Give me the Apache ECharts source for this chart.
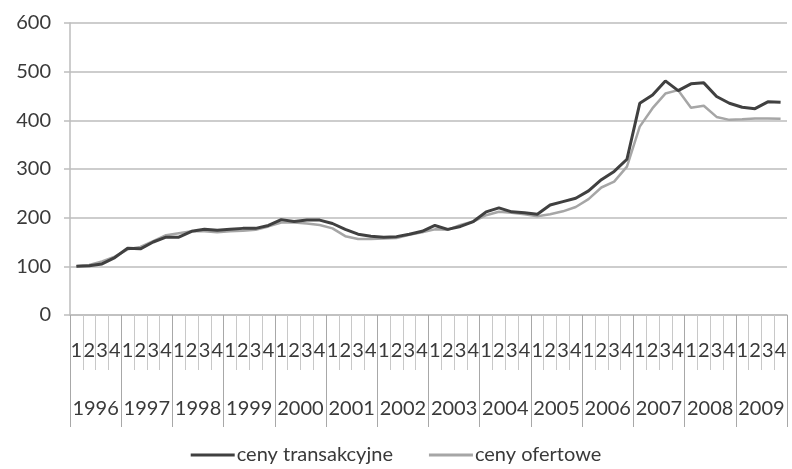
<!DOCTYPE html>
<html>
<head>
<meta charset="utf-8">
<script src="https://cdn.jsdelivr.net/npm/echarts@6/dist/echarts.min.js"></script>
<style>
  html, body { margin: 0; padding: 0; background: #ffffff; }
  #chart { width: 792px; height: 469px; }
</style>
</head>
<body>
<div id="chart"></div>
<script>
// Years and quarters on the two-level category axis
const years = ['1996','1997','1998','1999','2000','2001','2002','2003','2004','2005','2006','2007','2008','2009'];
const quarterNames = ['1','2','3','4'];

// Price index, quarterly, 1996 Q1 = 100
const cenyTransakcyjne = [
  100, 101, 105, 118,
  137, 136, 150, 160,
  160, 172, 176, 174,
  176, 178, 178, 184,
  196, 192, 195, 195,
  188, 176, 166, 162,
  160, 161, 166, 172,
  184, 176, 182, 192,
  212, 220, 212, 210,
  207, 226, 233, 240,
  255, 278, 295, 320,
  435, 452, 481, 461,
  475, 477, 449, 435,
  427, 424, 438, 437
];
const cenyOfertowe = [
  100, 103, 110, 120,
  135, 140, 152, 164,
  168, 172, 172, 170,
  172, 173, 175, 182,
  190, 190, 188, 185,
  178, 162, 156, 156,
  157, 158, 165, 170,
  176, 175, 185, 192,
  205, 212, 210, 207,
  203, 207, 213, 222,
  238, 262, 274, 305,
  387, 425, 455, 462,
  426, 430, 407, 401,
  402, 404, 404, 403
];

const yTicks = { min: 0, max: 600, step: 100 };

// One category per quarter, labelled 1..4
const quarterCats = [];
years.forEach(y => quarterNames.forEach(q => quarterCats.push(y + '-' + q)));

const textColor = '#3a3a3a';
const fontFamily = 'Lato, "Open Sans", sans-serif';

const chart = echarts.init(document.getElementById('chart'), null, { renderer: 'canvas' });
chart.setOption({
  backgroundColor: '#ffffff',
  animation: false,
  grid: { left: 70, right: 5, top: 23, bottom: 154, containLabel: false },
  xAxis: [
    {
      type: 'category',
      data: quarterCats,
      position: 'bottom',
      boundaryGap: true,
      axisLine: { show: true, lineStyle: { color: '#bdbdbd', width: 1.5 } },
      axisTick: { show: true, interval: 0, length: 55, lineStyle: { color: '#c8c8c8', width: 1 } },
      axisLabel: {
        interval: 0,
        margin: 26,
        color: textColor,
        fontFamily: fontFamily,
        fontSize: 20,
        formatter: v => v.split('-')[1]
      },
      splitLine: { show: false }
    },
    {
      type: 'category',
      data: years,
      position: 'bottom',
      boundaryGap: true,
      axisLine: { show: false },
      axisTick: { show: true, interval: 0, length: 112, lineStyle: { color: '#a8a8a8', width: 1 } },
      axisLabel: {
        interval: 0,
        margin: 84,
        color: textColor,
        fontFamily: fontFamily,
        fontSize: 20
      },
      splitLine: { show: false }
    }
  ],
  yAxis: {
    type: 'value',
    min: yTicks.min,
    max: yTicks.max,
    interval: yTicks.step,
    axisLine: { show: true, lineStyle: { color: '#bdbdbd', width: 1.5 } },
    axisTick: { show: true, length: 6, lineStyle: { color: '#bdbdbd', width: 1.5 } },
    axisLabel: { margin: 19, color: textColor, fontFamily: fontFamily, fontSize: 20 },
    splitLine: { show: true, lineStyle: { color: '#bdbdbd', width: 1.5 } }
  },
  legend: {
    bottom: -1,
    left: 'center',
    itemGap: 36,
    itemWidth: 44,
    itemHeight: 3,
    icon: 'rect',
    textStyle: { color: textColor, fontFamily: fontFamily, fontSize: 20, padding: [0, 0, 0, -3] },
    data: ['ceny transakcyjne', 'ceny ofertowe']
  },
  series: [
    {
      name: 'ceny ofertowe',
      type: 'line',
      xAxisIndex: 0,
      data: cenyOfertowe,
      showSymbol: false,
      smooth: false,
      lineStyle: { color: '#a6a6a6', width: 2.5 },
      itemStyle: { color: '#a6a6a6' },
      z: 2
    },
    {
      name: 'ceny transakcyjne',
      type: 'line',
      xAxisIndex: 0,
      data: cenyTransakcyjne,
      showSymbol: false,
      smooth: false,
      lineStyle: { color: '#404040', width: 3 },
      itemStyle: { color: '#404040' },
      z: 3
    }
  ]
});
</script>
</body>
</html>
